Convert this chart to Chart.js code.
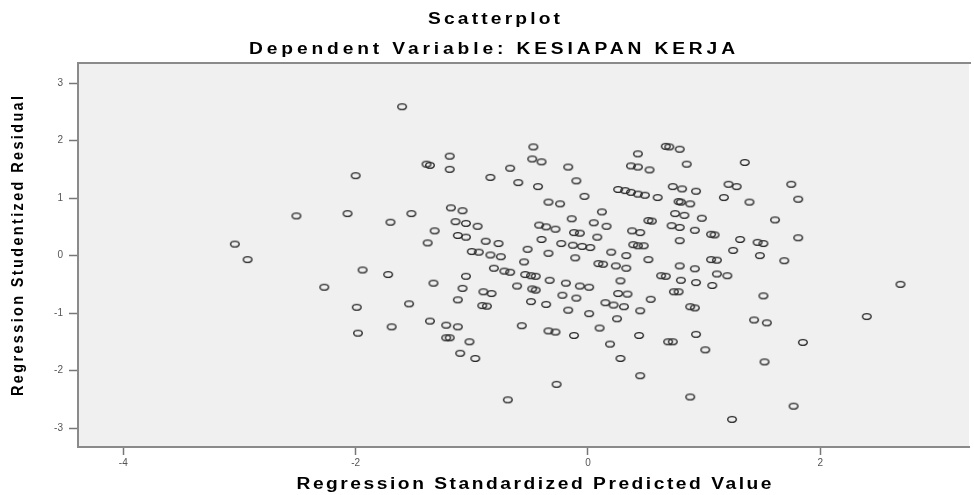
<!DOCTYPE html>
<html>
<head>
<meta charset="utf-8">
<script src="https://cdn.jsdelivr.net/npm/chart.js@4.4.1/dist/chart.umd.min.js"></script>
<style>
  html, body { margin: 0; padding: 0; background: #fff; }
</style>
</head>
<body>
<canvas id="residChart" width="974" height="495"></canvas>
<script>
// tick values shown on each axis
const xTickValues = [-4, -2, 0, 2];
const yTickValues = [-3, -2, -1, 0, 1, 2, 3];

// regression standardized predicted value (x) / studentized residual (y), paired by index
const predicted = [
  -3.04, -2.93, -2.51, -2.07, -2.00, -2.27, -1.99, -1.98, -1.94, -1.60,
  -1.39, -1.36, -1.19, -1.19, -0.84, -0.67, -0.60, -0.47, -0.48, -0.40,
  -0.43, -0.34, -0.24, -1.70, -1.52, -1.18, -1.08, -1.14, -1.05, -0.95,
  -1.32, -1.38, -1.12, -1.05, -0.88, -0.77, -1.00, -0.94, -0.84, -0.75,
  -0.42, -0.36, -0.28, -0.40, -0.52, -0.34, -0.55, -0.81, -0.72, -0.67,
  -0.54, -0.49, -0.45, -1.72, -1.33, -1.05, -1.08, -0.61, -0.48, -0.45,
  -0.90, -0.83, -1.12, -0.91, -0.87, -1.54, -0.49, -0.36, -1.69, -1.36,
  -1.22, -1.12, -0.57, -0.34, -0.28, -1.22, -1.19, -1.02, -1.10, -0.97,
  -0.69, -0.27,
  0.67, 0.70, 0.79, 0.43, 0.85, -0.17, 0.37, 0.43, 0.53, -0.10,
  -0.03, 0.26, 0.32, 0.37, 0.43, 0.49, 0.60, 0.73, 0.81, 0.93,
  0.78, 0.80, 0.88, 0.12, -0.14, 0.52, 0.55, 0.75, 0.83, 0.98,
  0.05, 0.16, 0.38, 0.45, 0.72, 0.79, 0.92, 1.06, 1.09, -0.12,
  -0.07, 0.08, 0.79, -0.23, -0.13, -0.05, 0.02, 0.39, 0.43, 0.48,
  -0.11, 0.20, 0.33, 0.52, 1.06, 1.11, 0.09, 0.13, 0.24, 0.33,
  0.79, 0.92, 0.63, 0.67, -0.33, -0.19, -0.07, 0.01, 0.28, 0.80,
  0.93, 1.07, 0.74, 0.78, -0.22, -0.10, 0.26, 0.34, 0.54, -0.17,
  0.15, 0.22, 0.31, 0.45, 0.01, 0.88, 0.92, 0.25, 0.10, -0.12,
  0.44, 0.69, 0.73, 0.93, 1.01, 0.19, 0.28, 0.45, 0.88,
  1.35, 1.21, 1.28, 1.75, 1.17, 1.39, 1.81, 1.61, 1.31, 1.46,
  1.51, 1.81, 1.25, 1.48, 1.69, 1.11, 1.20, 1.51, 1.43, 1.54,
  2.40, 1.85, 1.52, 1.77, 1.24, 2.69
];
const residual = [
  0.20, -0.07, 0.69, 0.73, 1.39, -0.55, -0.90, -1.35, -0.25, 2.59,
  1.59, 1.57, 1.73, 1.50, 1.36, 1.52, 1.27, 1.89, 1.68, 1.63,
  1.20, 0.93, 0.90, 0.58, 0.73, 0.83, 0.78, 0.59, 0.56, 0.51,
  0.43, 0.22, 0.35, 0.32, 0.25, 0.21, 0.07, 0.06, 0.01, -0.02,
  0.53, 0.50, 0.46, 0.28, 0.11, 0.04, -0.11, -0.22, -0.27, -0.29,
  -0.33, -0.35, -0.36, -0.33, -0.48, -0.36, -0.57, -0.53, -0.58, -0.60,
  -0.63, -0.66, -0.77, -0.87, -0.88, -0.84, -0.80, -0.85, -1.24, -1.14,
  -1.21, -1.24, -1.22, -1.31, -1.33, -1.43, -1.43, -1.50, -1.70, -1.79,
  -2.51, -2.24,
  1.90, 1.89, 1.85, 1.77, 1.59, 1.54, 1.56, 1.54, 1.49, 1.30,
  1.03, 1.15, 1.13, 1.10, 1.07, 1.05, 1.01, 1.20, 1.16, 1.12,
  0.94, 0.93, 0.90, 0.76, 0.64, 0.61, 0.60, 0.73, 0.70, 0.65,
  0.57, 0.51, 0.43, 0.40, 0.52, 0.49, 0.44, 0.37, 0.36, 0.40,
  0.39, 0.32, 0.26, 0.21, 0.18, 0.16, 0.14, 0.19, 0.17, 0.17,
  -0.04, 0.06, 0.00, -0.07, -0.07, -0.08, -0.14, -0.15, -0.18, -0.22,
  -0.18, -0.23, -0.35, -0.36, -0.43, -0.48, -0.53, -0.55, -0.44, -0.43,
  -0.47, -0.52, -0.63, -0.63, -0.69, -0.74, -0.66, -0.67, -0.76, -0.95,
  -0.82, -0.86, -0.89, -0.96, -1.01, -0.89, -0.91, -1.10, -1.26, -1.39,
  -1.39, -1.50, -1.50, -1.37, -1.64, -1.54, -1.79, -2.09, -2.46,
  1.62, 1.24, 1.20, 1.24, 1.01, 0.93, 0.98, 0.62, 0.28, 0.23,
  0.21, 0.31, 0.09, 0.00, -0.09, -0.32, -0.35, -0.70, -1.12, -1.17,
  -1.06, -1.51, -1.85, -2.62, -2.85, -0.50
];

const titleText = 'Scatterplot';
const subtitleText = 'Dependent Variable: KESIAPAN KERJA';
const xTitle = 'Regression Standardized Predicted Value';
const yTitle = 'Regression Studentized Residual';

// small open ellipse used as the marker (SPSS style)
function makeRing() {
    const c = document.createElement('canvas');
    c.width = 12;
    c.height = 9;
    const g = c.getContext('2d');
    g.strokeStyle = '#2a2a2a';
    g.lineWidth = 1.4;
    g.beginPath();
    g.ellipse(6, 4.5, 4.3, 2.9, 0, 0, Math.PI * 2);
    g.stroke();
    return c;
}

// text squeezed/stretched (sx) and letter-spaced to fill a given width
function spacedText(ctx, str, cx, cy, width, sx) {
    ctx.save();
    ctx.letterSpacing = '0px';
    ctx.translate(cx - width / 2, cy);
    ctx.scale(sx, 1);
    const w = ctx.measureText(str).width;
    const ls = (width / sx - w) / (str.length - 1);
    ctx.letterSpacing = ls + 'px';
    ctx.textAlign = 'left';
    ctx.textBaseline = 'middle';
    ctx.fillText(str, 0, 0);
    ctx.letterSpacing = '0px';
    ctx.restore();
}

const spssLook = {
    id: 'spssLook',
    beforeDraw(chart) {
        const { ctx, chartArea: a } = chart;
        ctx.save();
        ctx.fillStyle = '#f0f0f0';
        ctx.fillRect(a.left, a.top, a.right - a.left, a.bottom - a.top);
        ctx.strokeStyle = '#8a8a8a';
        ctx.lineWidth = 2;
        ctx.beginPath();
        ctx.moveTo(a.left, a.top);
        ctx.lineTo(a.right + 2, a.top);
        ctx.stroke();
        ctx.restore();
    },
    afterDraw(chart) {
        const ctx = chart.ctx;
        ctx.save();
        ctx.fillStyle = '#000';
        ctx.font = 'bold 16px "Liberation Sans", Arial, sans-serif';
        spacedText(ctx, titleText, 494, 20, 132, 1.2);
        spacedText(ctx, subtitleText, 492, 50, 486, 1.2);
        spacedText(ctx, xTitle, 534, 485, 475, 1.2);
        ctx.font = 'bold 17px "Liberation Sans", Arial, sans-serif';
        ctx.translate(18, 246);
        ctx.rotate(-Math.PI / 2);
        spacedText(ctx, yTitle, 0, 0, 300, 0.85);
        ctx.restore();
    }
};

const tickFont = { family: '"Liberation Sans", Arial, sans-serif', size: 10 };

const ctx = document.getElementById('residChart').getContext('2d');
const residChart = new Chart(ctx, {
    type: 'scatter',
    data: {
        datasets: [{
            label: 'Residual',
            data: predicted.map((x, i) => ({ x: x, y: residual[i] })),
            pointStyle: makeRing(),
            pointRadius: 4,
            borderColor: '#222',
            backgroundColor: 'transparent'
        }]
    },
    options: {
        responsive: false,
        animation: false,
        layout: { padding: { top: 63, right: 2, left: 0, bottom: 0 } },
        plugins: {
            legend: { display: false },
            tooltip: { enabled: false }
        },
        scales: {
            x: {
                type: 'linear',
                min: -4.39,
                max: 3.28,
                afterBuildTicks: s => { s.ticks = xTickValues.map(v => ({ value: v })); },
                afterFit: s => { s.height = 48; },
                ticks: { color: '#555', font: tickFont, padding: 2, maxRotation: 0, callback: v => String(v) },
                grid: { drawOnChartArea: false, drawTicks: true, tickLength: 8, tickColor: '#777', tickWidth: 1.5 },
                border: { color: '#8a8a8a', width: 2 }
            },
            y: {
                type: 'linear',
                min: -3.33,
                max: 3.35,
                afterBuildTicks: s => { s.ticks = yTickValues.map(v => ({ value: v })); },
                afterFit: s => { s.width = 78; },
                ticks: { color: '#555', font: tickFont, padding: 6, callback: v => String(v) },
                grid: { drawOnChartArea: false, drawTicks: true, tickLength: 9, tickColor: '#777', tickWidth: 1.5 },
                border: { color: '#8a8a8a', width: 2 }
            }
        }
    },
    plugins: [spssLook]
});
</script>
</body>
</html>
